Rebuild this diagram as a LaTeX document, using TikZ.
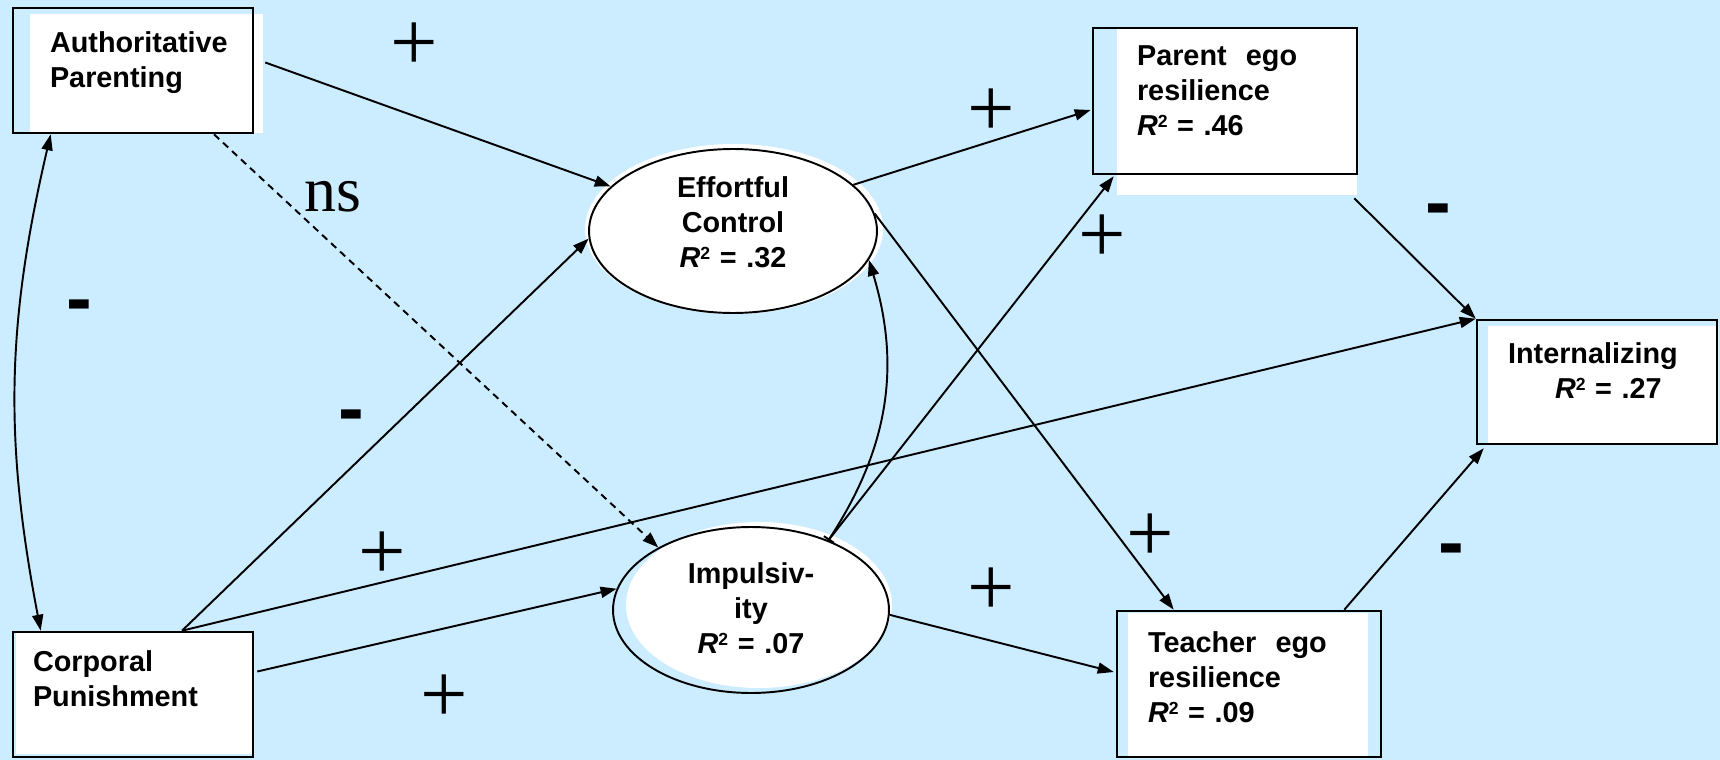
\documentclass[tikz,border=0pt]{standalone}
\usepackage{fontspec}
\setmainfont{Liberation Sans}
\newfontfamily\tnr{Liberation Serif}
\usetikzlibrary{shapes.geometric,arrows.meta}
\definecolor{bgblue}{HTML}{CCECFF}
\newcommand{\rsq}{\textit{R}\raisebox{4.5pt}{\fontsize{10}{10}\selectfont 2}}

\begin{document}
\begin{tikzpicture}[x=0.02cm, y=-0.02cm,
		>={Triangle[length=0.32cm,width=0.22cm]},
		box_style/.style={rectangle,draw=black,line width=1.5pt,align=left,inner ysep=0pt,text height=0pt,font=\bfseries\fontsize{16.4}{20}\selectfont},
		oval_style/.style={ellipse,draw=black,line width=1.1pt,align=center,inner sep=0pt,text width=3cm,text height=0pt,font=\bfseries\fontsize{16.4}{20}\selectfont},
		plus_style/.style={inner sep=0pt,font=\tnr\fontsize{48}{48}\selectfont},
		minus_style/.style={inner sep=0pt,anchor=base,font=\bfseries\fontsize{44}{44}\selectfont},
		edge_style/.style={draw=black,line width=1.1pt,->}]
		
		\useasboundingbox (0,0) rectangle (1720,760);
		\fill[bgblue] (0,0) rectangle (1720,760);
		
		% white patches behind the shapes
		\fill[white] (30,14) rectangle (263,133);
		\fill[white] (16,632) rectangle (253,754);
		\fill[white] (1117,28) rectangle (1357,195);
		\fill[white] (1128,613) rectangle (1368,757);
		\fill[white] (1488,326) rectangle (1717,444);
		\fill[white] (734,229) ellipse [x radius=149, y radius=85];
		\fill[white] (759,605) ellipse [x radius=133, y radius=83];
		
		\node[box_style,minimum width=4.8cm,minimum height=2.5cm,text width=3.32cm,inner xsep=0.74cm,text depth=0.74cm] (auth) at (133,70.5) {Authoritative\\Parenting};
		\node[box_style,minimum width=4.8cm,minimum height=2.5cm,text width=4cm,inner xsep=0.4cm,text depth=0.94cm] (corp) at (133,694.5) {Corporal\\Punishment};
		\node[oval_style,minimum width=5.76cm,minimum height=3.28cm,text depth=1.36cm] (effort) at (733,231) {Effortful\\Control\\\rsq{} = .32};
		\node[oval_style,minimum width=5.52cm,minimum height=3.32cm,text depth=1.08cm] (impuls) at (751,610) {Impulsiv-\\ity\\\rsq{} = .07};
		\node[box_style,minimum width=5.28cm,minimum height=2.92cm,text width=3.52cm,inner xsep=0.88cm,text depth=1.44cm] (parent) at (1225,101) {Parent\ \ ego\\resilience\\\rsq{} = .46};
		\node[box_style,minimum width=5.28cm,minimum height=2.92cm,text width=4.04cm,inner xsep=0.62cm,text depth=1.28cm] (teacher) at (1249,684) {Teacher\ \ ego\\resilience\\\rsq{} = .09};
		\node[box_style,minimum width=4.8cm,minimum height=2.48cm,text width=3.56cm,inner xsep=0.62cm,text depth=0.76cm] (intern) at (1597,382) {Internalizing\\\hspace*{0.94cm}\rsq{} = .27};
		
		\draw[edge_style] ([shift={(11,-8)}]auth.east) -- (effort.160);
		\draw[edge_style,dash pattern=on 4pt off 3pt] ([shift={(81,0)}]auth.south) -- (impuls.146);
		\draw[edge_style,<->] ([shift={(39,0)}]auth.south west) to[bend right=12] ([shift={(29,0)}]corp.north west);
		\draw[edge_style] ([shift={(49,0)}]corp.north) -- (effort.183);
		\draw[edge_style] ([shift={(49,0)}]corp.north) -- (intern.north west);
		\draw[edge_style] ([shift={(3,-23)}]corp.east) -- (impuls.171);
		\draw[edge_style] (effort.21) -- ([shift={(-1,9)}]parent.west);
		\draw[edge_style] (effort.7) -- ([shift={(58,0)}]teacher.north west);
		\draw[edge_style,{Bar[width=0.24cm]}->] (impuls.42) to[bend right=25] (effort.-12);
		\draw[edge_style] (impuls.42) -- ([shift={(22,1)}]parent.south west);
		\draw[edge_style] (impuls.-2) -- ([shift={(-2,-12)}]teacher.west);
		\draw[edge_style] ([shift={(-4,23)}]parent.south east) -- (intern.north west);
		\draw[edge_style] ([shift={(-38,0)}]teacher.north east) -- ([shift={(8,3)}]intern.south west);
		
		% signs
		\node[plus_style] (p1) at (414,47) {+};
		\node[plus_style] (p2) at (991,113) {+};
		\node[plus_style] (p3) at (1102,239) {+};
		\node[plus_style] (p4) at (382,556) {+};
		\node[plus_style] (p5) at (991,592) {+};
		\node[plus_style] (p6) at (1150,538) {+};
		\node[plus_style] (p7) at (444,699) {+};
		\node[minus_style] (m1) at (79,324.5) {-};
		\node[minus_style] (m2) at (351,434.5) {-};
		\node[minus_style] (m3) at (1438,228.5) {-};
		\node[minus_style] (m4) at (1451,568.5) {-};
		\node[inner sep=0pt,anchor=base,font=\tnr\fontsize{36.4}{36.4}\selectfont] (ns) at (333,212) {ns};
		
\end{tikzpicture}
\end{document}
